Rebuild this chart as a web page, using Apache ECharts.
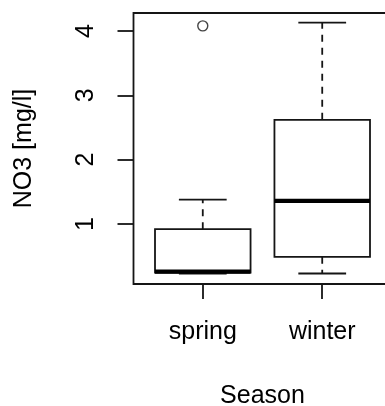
<!DOCTYPE html>
<html>
<head>
<meta charset="utf-8">
<script src="https://cdn.jsdelivr.net/npm/echarts@6/dist/echarts.min.js"></script>
<style>
  html, body { margin: 0; padding: 0; background: #fff; }
  #chart { width: 385px; height: 406px; }
</style>
</head>
<body>
<div id="chart"></div>
<script>
// NO3 concentration by season: five-number summaries plus outliers
const seasons = ['spring', 'winter'];
const whiskerLow = [0.23, 0.23];
const hingeLow = [0.245, 0.49];
const medians = [0.26, 1.36];
const hingeHigh = [0.92, 2.62];
const whiskerHigh = [1.38, 4.13];
const outlierSeason = [0];      // index into seasons
const outlierValue = [4.08];
const yTicks = [1, 2, 3, 4];

// box centres sit at 1, 2, ... on a numeric x axis (like R's boxplot)
const boxData = seasons.map((s, i) =>
  [i + 1, whiskerLow[i], hingeLow[i], medians[i], hingeHigh[i], whiskerHigh[i]]);
const outlierData = outlierValue.map((v, k) => [outlierSeason[k] + 1, v]);
const xTicks = seasons.map((s, i) => i + 1);

const INK = '#151515';
const LW = 1.8;
const FONT = "'Liberation Sans', Arial, sans-serif";

function renderBox(params, api) {
  const x = api.value(0);
  const lo = api.coord([x, api.value(1)]);
  const q1 = api.coord([x, api.value(2)]);
  const md = api.coord([x, api.value(3)]);
  const q3 = api.coord([x, api.value(4)]);
  const hi = api.coord([x, api.value(5)]);
  const boxW = api.size([0.8, 0])[0];
  const capW = boxW / 2;
  const cx = lo[0];
  const line = { stroke: INK, lineWidth: LW };
  const dashed = { stroke: INK, lineWidth: LW, lineDash: [7, 6] };
  return {
    type: 'group',
    children: [
      { type: 'line', shape: { x1: cx, y1: q3[1], x2: cx, y2: hi[1] }, style: dashed },
      { type: 'line', shape: { x1: cx, y1: q1[1], x2: cx, y2: lo[1] }, style: dashed },
      { type: 'line', shape: { x1: cx - capW / 2, y1: hi[1], x2: cx + capW / 2, y2: hi[1] }, style: line },
      { type: 'line', shape: { x1: cx - capW / 2, y1: lo[1], x2: cx + capW / 2, y2: lo[1] }, style: line },
      { type: 'rect', shape: { x: cx - boxW / 2, y: q3[1], width: boxW, height: q1[1] - q3[1] },
        style: { fill: '#fff', stroke: INK, lineWidth: LW } },
      { type: 'line', shape: { x1: cx - boxW / 2, y1: md[1], x2: cx + boxW / 2, y2: md[1] },
        style: { stroke: '#000', lineWidth: 4.3 } }
    ]
  };
}

const chart = echarts.init(document.getElementById('chart'), null, { renderer: 'canvas' });
chart.setOption({
  animation: false,
  backgroundColor: '#fff',
  grid: {
    left: 133.5, top: 13, width: 258, height: 271,
    outerBoundsMode: 'none', containLabel: false,
    show: true, borderColor: INK, borderWidth: LW, backgroundColor: 'transparent'
  },
  xAxis: {
    type: 'value', min: 0.42, max: 2.58,
    name: 'Season', nameLocation: 'middle', nameGap: 100,
    nameTextStyle: { color: '#000', fontFamily: FONT, fontSize: 25 },
    axisLine: { show: false },
    axisTick: { show: true, length: 15, customValues: xTicks, lineStyle: { color: INK, width: LW } },
    axisLabel: {
      customValues: xTicks, margin: 36, color: '#000', fontFamily: FONT, fontSize: 25,
      formatter: v => seasons[Math.round(v) - 1] || ''
    },
    splitLine: { show: false }
  },
  yAxis: {
    type: 'value', min: 0.067, max: 4.28,
    name: 'NO3 [mg/l]', nameLocation: 'middle', nameGap: 97,
    nameTextStyle: { color: '#000', fontFamily: FONT, fontSize: 25 },
    axisLine: { show: false },
    axisTick: { show: true, length: 16, customValues: yTicks, lineStyle: { color: INK, width: LW } },
    axisLabel: {
      customValues: yTicks, rotate: 90, margin: 35, color: '#000', fontFamily: FONT, fontSize: 25
    },
    splitLine: { show: false }
  },
  series: [
    {
      type: 'custom',
      renderItem: renderBox,
      data: boxData,
      encode: { x: 0, y: [1, 2, 3, 4, 5] },
      clip: false
    },
    {
      type: 'scatter',
      data: outlierData,
      symbol: 'circle',
      symbolSize: 10,
      itemStyle: { color: '#fff', borderColor: INK, borderWidth: 1.4 }
    }
  ]
});
</script>
</body>
</html>
